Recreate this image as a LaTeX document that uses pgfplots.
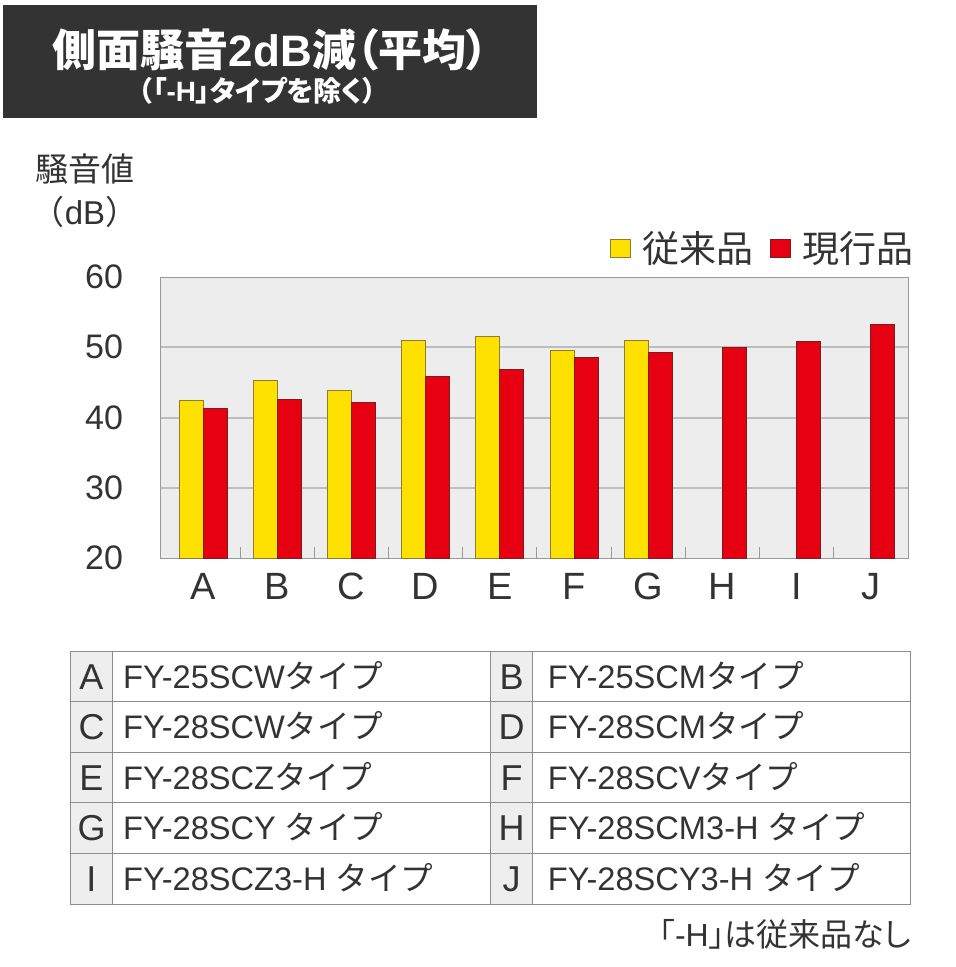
\documentclass[border=0pt]{standalone}
\usepackage{fontspec}
\setmainfont{Liberation Sans}
\newfontfamily\jp{Noto Sans CJK JP}
\newfontfamily\jpp{Noto Sans CJK JP}[RawFeature=+palt]
\usepackage{pgfplots}
\pgfplotsset{compat=1.18}
\usepackage{pgfplotstable}
\definecolor{txt}{HTML}{333333}
\definecolor{bary}{RGB}{255,225,0}
\definecolor{barr}{RGB}{230,0,18}
\definecolor{plotbg}{HTML}{EDEDED}
\definecolor{gridc}{HTML}{BDBDBD}
\definecolor{framec}{HTML}{999999}
\definecolor{cellbg}{HTML}{EEEEEE}
\definecolor{tline}{HTML}{8C8C8C}
\definecolor{titlebg}{HTML}{333333}
\definecolor{ybord}{RGB}{140,125,50}
\definecolor{rbord}{RGB}{120,30,30}

% old model (A-G only)
\pgfplotstableread{
x old
0 42.4
1 45.2
2 43.9
3 50.9
4 51.6
5 49.5
6 50.9
}\oldtab
% current model
\pgfplotstableread{
x new
0 41.3
1 42.6
2 42.2
3 45.9
4 46.8
5 48.6
6 49.3
7 50.0
8 50.8
9 53.2
}\newtab

\newcommand\ty{{\jp タイプ}}

\begin{document}
\begin{tikzpicture}
\path[use as bounding box] (0,0) rectangle (478pt,-483.5pt);
\begin{axis}[
  at={(80pt,-279pt)}, anchor=south west,
  scale only axis, width=374pt, height=140.5pt,
  xmin=-0.58, xmax=9.5, ymin=20, ymax=60,
  ybar=0pt, bar width=12pt,
  axis background/.style={fill=plotbg},
  axis line style={framec, line width=0.5pt},
  ytick={30,40,50}, extra y ticks={20,60},
  extra y tick style={grid=none},
  ymajorgrids, grid style={gridc, line width=1pt},
  xtick={0,...,9}, xticklabels={A,B,C,D,E,F,G,H,I,J},
  minor xtick={0.5,1.5,...,8.5},
  major tick length=0pt, minor tick length=5.5pt,
  tick align=inside, xtick pos=bottom, ytick pos=left,
  minor tick style={framec, line width=0.5pt},
  /pgf/number format/assume math mode=true,
  xticklabel style={font=\fontsize{19pt}{22pt}\selectfont, text=txt, yshift=-4pt},
  yticklabel style={font=\fontsize{17pt}{20pt}\selectfont, text=txt, xshift=-15pt},
  legend style={at={(1,1)}, anchor=south east, draw=none, fill=none,
    legend columns=2, font=\jp\fontsize{18.5pt}{20pt}\selectfont, text=txt,
    /tikz/every even column/.append style={column sep=6pt},
    yshift=1.5pt, xshift=8pt},
  legend image code/.code={\draw[#1, line width=0.5pt] (0pt,-4.7pt) rectangle (10.3pt,4.7pt);
    \path (14pt,0pt);},
]
\addplot[fill=bary, draw=ybord, line width=0.5pt] table[x=x,y=old]{\oldtab};
\addplot[fill=barr, draw=rbord, line width=0.5pt] table[x=x,y=new]{\newtab};
\legend{従来品, 現行品}
\end{axis}

\begin{scope}[x=0.5pt, y=-0.5pt]
% title bar
\fill[titlebg] (3,5) rectangle (537,118);
\node[text=white, font=\bfseries\fontsize{22pt}{24pt}\selectfont] at (270.5,50)
  {{\jpp\bfseries 側面騒音}2dB{\jpp\bfseries 減（平均）}};
\node[text=white, font=\bfseries\fontsize{14pt}{16pt}\selectfont] at (257.5,91)
  {{\jpp\bfseries （「}-H{\jpp\bfseries 」タイプを除く）}};
% y label
\node[text=txt, font=\jp\fontsize{16.5pt}{18pt}\selectfont] at (85,169) {騒音値};
\node[text=txt, font=\fontsize{16.5pt}{18pt}\selectfont] at (85,212) {{\jp （}dB{\jp ）}};
% key table
\fill[cellbg] (70.3,651) rectangle (112.7,904);
\fill[cellbg] (490.7,651) rectangle (532.5,904);
\draw[tline, line width=0.5pt] (70.3,651) rectangle (910.3,904);
\foreach \yy in {701.6,752.2,802.8,853.4}
  \draw[tline, line width=0.5pt] (70.3,\yy) -- (910.3,\yy);
\foreach \xx in {112.7,490.7,532.5}
  \draw[tline, line width=0.5pt] (\xx,651) -- (\xx,904);
\foreach \i/\la/\ta/\lb/\tb in {
  0/A/{FY-25SCW\ty}/B/{FY-25SCM\ty},
  1/C/{FY-28SCW\ty}/D/{FY-28SCM\ty},
  2/E/{FY-28SCZ\ty}/F/{FY-28SCV\ty},
  3/G/{FY-28SCY \ty}/H/{FY-28SCM3-H \ty},
  4/I/{FY-28SCZ3-H \ty}/J/{FY-28SCY3-H \ty}} {
  \node[anchor=base, inner sep=0pt, text=txt, font=\fontsize{18pt}{20pt}\selectfont]
    at (91.5,{689+50.6*\i}) {\la};
  \node[anchor=base west, inner sep=0pt, text=txt, font=\fontsize{16.3pt}{18pt}\selectfont]
    at (122.7,{688+50.6*\i}) {\ta};
  \node[anchor=base, inner sep=0pt, text=txt, font=\fontsize{18pt}{20pt}\selectfont]
    at (511.6,{689+50.6*\i}) {\lb};
  \node[anchor=base west, inner sep=0pt, text=txt, font=\fontsize{16.3pt}{18pt}\selectfont]
    at (547.5,{688+50.6*\i}) {\tb};
}
\node[anchor=base east, inner sep=0pt, text=txt, font=\fontsize{16pt}{18pt}\selectfont]
  at (911.7,946.5) {{\jpp 「}-H{\jpp 」は従来品なし}};
\end{scope}
\end{tikzpicture}
\end{document}
